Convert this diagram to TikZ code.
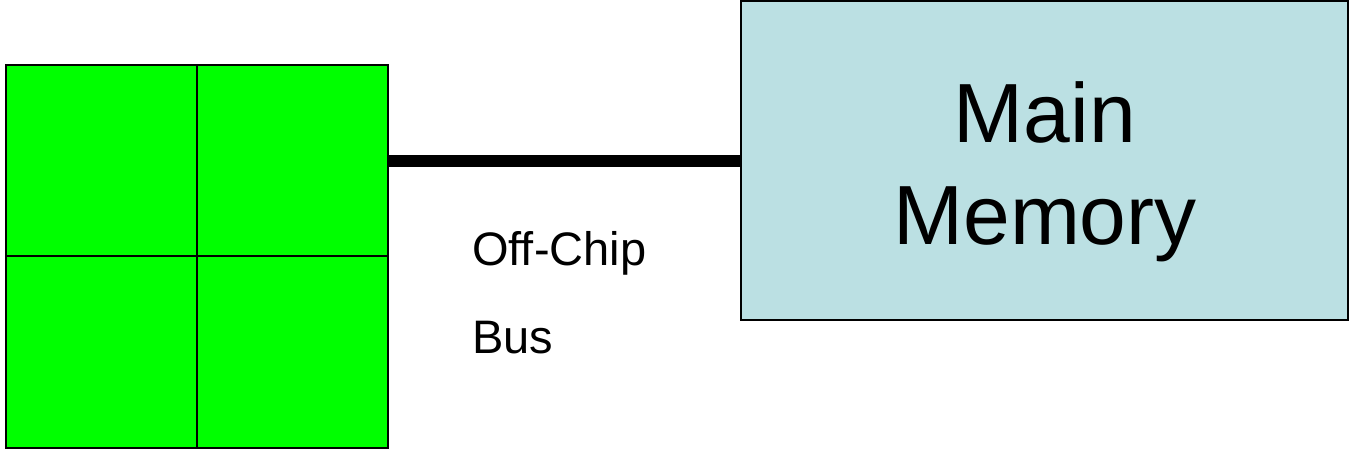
\documentclass[tikz,border=0pt]{standalone}
\usepackage{fontspec}
\setmainfont{Liberation Sans}
\definecolor{chipgreen}{HTML}{00FF00}
\definecolor{memblue}{HTML}{BBE0E3}
\begin{document}
\begin{tikzpicture}[x=1pt,y=1pt,
  core/.style={draw=black,line width=2pt,fill=chipgreen,minimum width=191pt,minimum height=191.5pt,inner sep=0pt,anchor=south west},
  memory/.style={draw=black,line width=2pt,fill=memblue,minimum width=607pt,minimum height=319pt,inner sep=0pt,anchor=south west},
  memtext/.style={anchor=base,inner sep=0pt,font=\fontsize{84}{102}\selectfont},
  bus/.style={line width=12pt},
  label/.style={anchor=base west,inner sep=0pt,font=\fontsize{47}{56}\selectfont}]
\useasboundingbox (0,0) rectangle (1349,453);
% four cores of the chip
\node[core] (c3) at (5,4) {};
\node[core] (c4) at (196,4) {};
\node[core] (c1) at (5,195.5) {};
\node[core] (c2) at (196,195.5) {};
% main memory
\node[memory] (mem) at (740,132) {};
\node[memtext] (mtext) at (1045,310) {Main};
\node[memtext] (mtext2) at (1045,208) {Memory};
% off-chip bus
\coordinate (busL) at (387,292);
\coordinate (busR) at (740,292);
\draw[bus] (busL) -- (busR);
\node[label] (l1) at (472,187) {Off-Chip};
\node[label] (l2) at (472,100) {Bus};
\end{tikzpicture}
\end{document}
